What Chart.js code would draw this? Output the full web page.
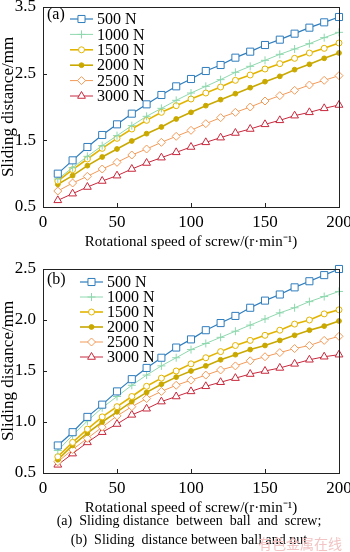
<!DOCTYPE html>
<html>
<head>
<meta charset="utf-8">
<script src="https://cdn.jsdelivr.net/npm/chart.js@4.4.1/dist/chart.umd.min.js"></script>
<style>
  body { margin: 0; background: #fff; }
  #wrap { position: relative; width: 350px; height: 552px; overflow: hidden; }
  canvas { position: absolute; left: 0; }
  #chartA { top: 0; }
  #chartB { top: 260px; }
  .cap { position: absolute; left: 0; width: 378px; text-align: center;
         font-family: "Liberation Serif", "Times New Roman", serif; font-size: 14px; color: #000; white-space: pre; }
  #wm { position: absolute; left: 258px; top: 533px; font-family: "Noto Sans CJK SC", sans-serif;
        font-size: 14px; color: #f2c4c4; }
</style>
</head>
<body>
<div id="wrap">
  <canvas id="chartA" width="350" height="260"></canvas>
  <canvas id="chartB" width="350" height="266"></canvas>
  <div class="cap" style="top:513px">(a)  Sliding distance  between  ball  and  screw;</div>
  <div class="cap" style="top:532px">(b)  Sliding  distance between ball and nut</div>
  <div id="wm">有色金属在线</div>
</div>
<script>
// rotational speed of screw, r/min
var speed = [10, 20, 30, 40, 50, 60, 70, 80, 90, 100, 110, 120, 130, 140, 150, 160, 170, 180, 190, 200];
var xTicks = [0, 50, 100, 150, 200];
var loadNames = ["500 N", "1000 N", "1500 N", "2000 N", "2500 N", "3000 N"];

// (a) ball and screw
var aLoad500 = [1.00, 1.20, 1.40, 1.58, 1.74, 1.90, 2.04, 2.18, 2.31, 2.42, 2.54, 2.63, 2.74, 2.83, 2.93, 3.01, 3.10, 3.19, 3.27, 3.35];
var aLoad1000 = [0.92, 1.09, 1.26, 1.42, 1.57, 1.72, 1.86, 1.98, 2.10, 2.21, 2.31, 2.41, 2.52, 2.61, 2.70, 2.79, 2.87, 2.95, 3.04, 3.12];
var aLoad1500 = [0.89, 1.06, 1.22, 1.38, 1.53, 1.67, 1.80, 1.92, 2.02, 2.12, 2.21, 2.30, 2.40, 2.48, 2.57, 2.65, 2.73, 2.81, 2.88, 2.96];
var aLoad2000 = [0.84, 0.97, 1.12, 1.25, 1.37, 1.49, 1.60, 1.70, 1.82, 1.92, 2.02, 2.11, 2.20, 2.29, 2.38, 2.46, 2.56, 2.64, 2.73, 2.81];
var aLoad2500 = [0.74, 0.86, 0.96, 1.07, 1.17, 1.28, 1.37, 1.47, 1.56, 1.65, 1.75, 1.84, 1.92, 2.00, 2.09, 2.17, 2.25, 2.33, 2.40, 2.47];
var aLoad3000 = [0.60, 0.70, 0.80, 0.89, 0.97, 1.07, 1.16, 1.24, 1.32, 1.40, 1.47, 1.54, 1.61, 1.67, 1.74, 1.80, 1.87, 1.92, 1.98, 2.03];
var aTicks = [0.5, 1.5, 2.5, 3.5];

// (b) ball and nut
var bLoad500 = [0.77, 0.90, 1.05, 1.17, 1.30, 1.42, 1.53, 1.63, 1.73, 1.81, 1.90, 1.97, 2.04, 2.12, 2.19, 2.25, 2.32, 2.38, 2.44, 2.50];
var bLoad1000 = [0.72, 0.87, 1.01, 1.14, 1.25, 1.36, 1.46, 1.55, 1.63, 1.71, 1.77, 1.83, 1.89, 1.95, 2.01, 2.07, 2.12, 2.18, 2.23, 2.28];
var bLoad1500 = [0.66, 0.80, 0.93, 1.05, 1.15, 1.25, 1.35, 1.43, 1.50, 1.57, 1.63, 1.69, 1.75, 1.80, 1.85, 1.90, 1.96, 2.00, 2.06, 2.10];
var bLoad2000 = [0.63, 0.77, 0.89, 1.00, 1.10, 1.20, 1.29, 1.37, 1.44, 1.50, 1.55, 1.61, 1.66, 1.71, 1.75, 1.80, 1.85, 1.90, 1.94, 1.99];
var bLoad2500 = [0.61, 0.73, 0.84, 0.95, 1.06, 1.15, 1.23, 1.30, 1.36, 1.41, 1.46, 1.51, 1.55, 1.60, 1.64, 1.68, 1.72, 1.75, 1.80, 1.84];
var bLoad3000 = [0.58, 0.69, 0.80, 0.90, 0.98, 1.07, 1.13, 1.20, 1.25, 1.30, 1.35, 1.39, 1.43, 1.47, 1.50, 1.53, 1.57, 1.61, 1.64, 1.66];
var bTicks = [0.5, 1.0, 1.5, 2.0, 2.5];

var serif = "'Liberation Serif', 'Times New Roman', serif";

var styles = [
  { color: "#2f7dbd", point: "rect", r: 5, fill: "#fff", w: 1.2 },
  { color: "#8ed8ae", point: "cross", r: 4, fill: "#fff", w: 1 },
  { color: "#e2b400", point: "circle", r: 3, fill: "#fff", w: 1.6 },
  { color: "#c9a800", point: "circle", r: 2.4, fill: "#c9a800", w: 1.6 },
  { color: "#f39a58", point: "rectRot", r: 4, fill: "#fff", w: 1 },
  { color: "#c8283c", point: "triangle", r: 4.5, fill: "#fff", w: 1 },
];

// frame, inward ticks, legend and panel label
var framePlugin = {
  id: "frame",
  afterDraw: function (chart, args, opts) {
    var ctx = chart.ctx;
    var a = chart.chartArea;
    var xs = chart.scales.x;
    var ys = chart.scales.y;
    ctx.save();
    ctx.strokeStyle = "#222";
    ctx.lineWidth = 1;
    ctx.strokeRect(a.left + 0.5, a.top + 0.5, a.right - a.left, a.bottom - a.top);
    ctx.beginPath();
    xs.ticks.forEach(function (t) {
      if (t.value <= xs.min || t.value >= xs.max) return;
      var px = Math.round(xs.getPixelForValue(t.value)) + 0.5;
      ctx.moveTo(px, a.bottom);
      ctx.lineTo(px, a.bottom - 4);
    });
    ys.ticks.forEach(function (t) {
      if (t.value <= ys.min || t.value >= ys.max) return;
      var py = Math.round(ys.getPixelForValue(t.value)) + 0.5;
      ctx.moveTo(a.left, py);
      ctx.lineTo(a.left + 4, py);
    });
    ctx.stroke();

    ctx.fillStyle = "#000";
    ctx.font = "16px " + serif;
    ctx.textBaseline = "middle";
    ctx.fillText(opts.label, opts.labelX, opts.labelY);

    chart.data.datasets.forEach(function (ds, i) {
      var y = opts.legendY + i * opts.legendGap;
      var x0 = opts.legendX;
      ctx.strokeStyle = ds.borderColor;
      ctx.lineWidth = ds.borderWidth;
      ctx.beginPath();
      ctx.moveTo(x0, y);
      ctx.lineTo(x0 + 23, y);
      ctx.stroke();
      ctx.fillStyle = ds.pointBackgroundColor;
      ctx.lineWidth = 1;
      Chart.helpers.drawPoint(ctx, { pointStyle: ds.pointStyle, radius: ds.pointRadius, rotation: 0, borderWidth: 1 }, x0 + 11.5, y);
      ctx.fillStyle = "#000";
      ctx.fillText(ds.label, x0 + 27, y + 1);
    });
    ctx.restore();
  },
};

function makeChart(id, series, yMin, yMax, yTicks, panel, pad) {
  var datasets = series.map(function (vals, i) {
    var s = styles[i];
    return {
      label: loadNames[i],
      data: vals.map(function (v, k) { return { x: speed[k], y: v }; }),
      borderColor: s.color,
      borderWidth: s.w,
      pointStyle: s.point,
      pointRadius: s.r,
      pointBorderWidth: 1,
      pointBackgroundColor: s.fill,
      pointBorderColor: s.color,
      clip: false,
    };
  });
  return new Chart(document.getElementById(id), {
    type: "line",
    data: { datasets: datasets },
    plugins: [framePlugin],
    options: {
      responsive: false,
      animation: false,
      devicePixelRatio: 1,
      layout: { padding: pad },
      plugins: {
        legend: { display: false },
        tooltip: { enabled: false },
        frame: panel,
      },
      scales: {
        x: {
          type: "linear",
          min: 0,
          max: 200,
          afterBuildTicks: function (scale) {
            scale.ticks = xTicks.map(function (v) { return { value: v }; });
          },
          afterFit: function (scale) {
            scale.height = 50;
            scale.paddingLeft = 0;
            scale.paddingRight = 0;
          },
          grid: { display: false, drawTicks: false },
          border: { display: false },
          ticks: { color: "#000", font: { family: serif, size: 17 }, padding: 5, maxRotation: 0 },
          title: {
            display: true,
            text: "Rotational speed of screw/(r·min⁻¹)",
            color: "#000",
            font: { family: serif, size: 15, lineHeight: 1.2 },
            padding: { top: 0, bottom: 6 },
          },
        },
        y: {
          min: yMin,
          max: yMax,
          afterBuildTicks: function (scale) {
            scale.ticks = yTicks.map(function (v) { return { value: v }; });
          },
          afterFit: function (scale) {
            scale.width = 43;
            scale.paddingTop = 0;
            scale.paddingBottom = 0;
          },
          grid: { display: false, drawTicks: false },
          border: { display: false },
          ticks: {
            color: "#000",
            font: { family: serif, size: 17 },
            padding: 7,
            callback: function (v) { return Number(v).toFixed(1); },
          },
          title: {
            display: true,
            text: "Sliding distance/mm",
            color: "#000",
            font: { family: serif, size: 17, lineHeight: 1 },
            padding: 0,
          },
        },
      },
    },
  });
}

var chartA = makeChart(
  "chartA",
  [aLoad500, aLoad1000, aLoad1500, aLoad2000, aLoad2500, aLoad3000],
  0.5, 3.5, aTicks,
  { label: "(a)", labelX: 47, labelY: 15, legendX: 70, legendY: 19, legendGap: 15.4 },
  { top: 7, right: 11, bottom: 3, left: 0 }
);

var chartB = makeChart(
  "chartB",
  [bLoad500, bLoad1000, bLoad1500, bLoad2000, bLoad2500, bLoad3000],
  0.5, 2.5, bTicks,
  { label: "(b)", labelX: 47, labelY: 20, legendX: 80, legendY: 22, legendGap: 15 },
  { top: 9, right: 11, bottom: 3, left: 0 }
);
</script>
</body>
</html>
